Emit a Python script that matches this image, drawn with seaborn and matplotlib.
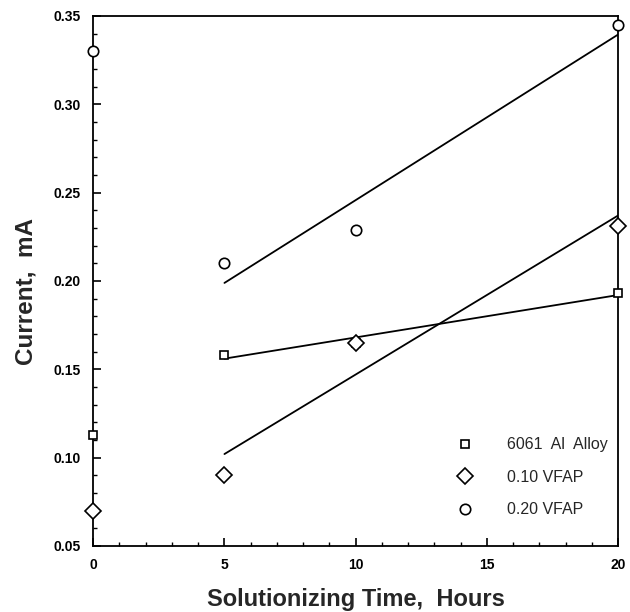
import numpy as np
import pandas as pd
import matplotlib
matplotlib.use("Agg")
import matplotlib.pyplot as plt
import seaborn as sns
from matplotlib.ticker import MultipleLocator, FormatStrFormatter

# Data
hours = [0, 5, 10, 20]
alloy_6061 = [0.113, 0.158, 0.165, 0.193]
vfap_010 = [0.070, 0.090, 0.165, 0.231]
vfap_020 = [0.330, 0.210, 0.229, 0.345]
series_names = ["6061  Al  Alloy", "0.10 VFAP", "0.20 VFAP"]

sns.set_theme(style="ticks")
plt.rcParams['font.family'] = ['Liberation Sans', 'DejaVu Sans']

fig = plt.figure(figsize=(6.3, 6.12), dpi=100)
ax = fig.add_axes([0.148, 0.108, 0.833, 0.866])

markers = ['s', 'D', 'o']
sizes = [5.5, 8.5, 7.5]
handles = []
for name, vals, m, s in zip(series_names, [alloy_6061, vfap_010, vfap_020], markers, sizes):
    df = pd.DataFrame({"x": hours, "y": vals})
    fit = df[df["x"] >= 5]
    sns.regplot(data=fit, x="x", y="y", ax=ax, scatter=False, ci=None, truncate=True,
                line_kws=dict(color='black', lw=1.3))
    h, = ax.plot(df["x"], df["y"], linestyle='none', marker=m, markersize=s,
                 markerfacecolor='white', markeredgecolor='black', markeredgewidth=1.2,
                 clip_on=False, zorder=5)
    handles.append(h)

ax.set_xlim(0, 20)
ax.set_ylim(0.05, 0.35)
ax.xaxis.set_major_locator(MultipleLocator(5))
ax.xaxis.set_minor_locator(MultipleLocator(1))
ax.yaxis.set_major_locator(MultipleLocator(0.05))
ax.yaxis.set_minor_locator(MultipleLocator(0.01))
ax.yaxis.set_major_formatter(FormatStrFormatter('%.2f'))
ax.tick_params(which='both', direction='in', top=False, right=False, colors='black')
ax.tick_params(which='major', length=6, width=1.2, labelsize=10, pad=9)
ax.tick_params(which='minor', length=3, width=1.0)
for lbl in ax.get_xticklabels() + ax.get_yticklabels():
    lbl.set_fontweight('bold')
for sp in ax.spines.values():
    sp.set_color('black')
    sp.set_linewidth(1.3)

ax.set_xlabel("Solutionizing Time,  Hours", fontsize=17, fontweight='bold', labelpad=11)
ax.set_ylabel("Current,  mA", fontsize=17.5, fontweight='bold')
ax.yaxis.set_label_coords(-0.107, 0.48)

leg = ax.legend(handles, series_names, loc='upper left', bbox_to_anchor=(0.651, 0.232),
                frameon=False, fontsize=11.5, labelspacing=1.1, handletextpad=1.6,
                markerscale=1.0)

fig.savefig("out.png", dpi=100)
